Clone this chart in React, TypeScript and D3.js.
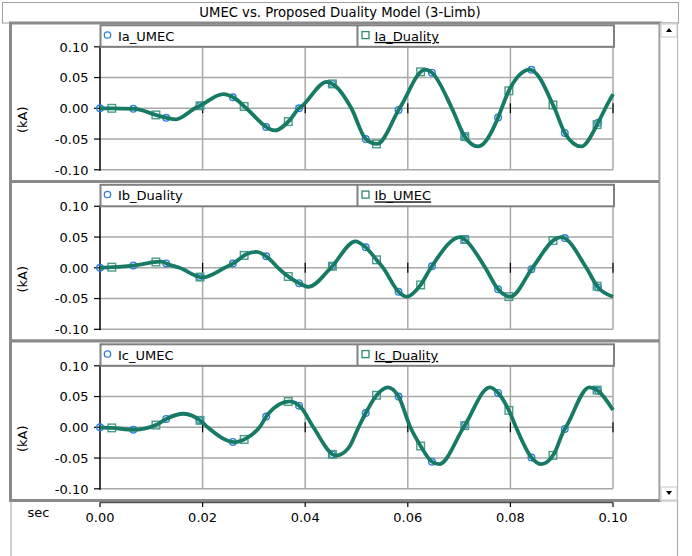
import React, { useEffect, useRef } from "react";
import * as d3 from "d3";

const TITLE = "UMEC vs. Proposed Duality Model (3-Limb)";
const xTicks = [0, 0.02, 0.04, 0.06, 0.08, 0.1];
const xTickLabels = ["0.00", "0.02", "0.04", "0.06", "0.08", "0.10"];
const yTicks = [0.1, 0.05, 0, -0.05, -0.1];
const yTickLabels = ["0.10", "0.05", "0.00", "-0.05", "-0.10"];

// Phase A current (kA)
const iaT = [0, 0.0023, 0.0067, 0.011, 0.0132, 0.0148, 0.0185, 0.0197, 0.024, 0.0263, 0.0285, 0.0341, 0.037, 0.0388, 0.0393, 0.0442, 0.0456, 0.049, 0.0518, 0.054, 0.0584, 0.0634, 0.0647, 0.0686, 0.0711, 0.0737, 0.0776, 0.0783, 0.0795, 0.0838, 0.0886, 0.0906, 0.0938, 0.097, 0.0985, 0.1];
const iaV = [0, 0.0, -0.001, -0.011, -0.016, -0.018, 0.0, 0.005, 0.023, 0.016, 0.0, -0.036, -0.019, 0.0, 0.003, 0.043, 0.038, 0.0, -0.05, -0.058, 0.0, 0.063, 0.058, 0.0, -0.046, -0.062, -0.015, 0.0, 0.025, 0.063, 0.0, -0.04, -0.062, -0.025, 0.0, 0.023];

// Phase B current (kA)
const ibT = [0, 0.0023, 0.0067, 0.011, 0.012, 0.0132, 0.0155, 0.02, 0.0243, 0.0263, 0.0285, 0.0305, 0.0328, 0.0347, 0.037, 0.0393, 0.0406, 0.045, 0.0498, 0.0517, 0.054, 0.0552, 0.0582, 0.0598, 0.0624, 0.0645, 0.0702, 0.0711, 0.0751, 0.0776, 0.08, 0.0843, 0.0886, 0.0899, 0.0948, 0.097, 0.1];
const ibV = [0, 0.001, 0.004, 0.0095, 0.01, 0.006, 0.0, -0.0155, 0.0, 0.009, 0.022, 0.026, 0.016, 0.0, -0.016, -0.027, -0.031, 0.0, 0.043, 0.034, 0.012, 0.0, -0.039, -0.047, -0.029, 0.0, 0.05, 0.046, 0.0, -0.035, -0.047, 0.0, 0.046, 0.05, 0.0, -0.031, -0.047];

// Phase C current (kA)
const icT = [0, 0.0023, 0.0067, 0.011, 0.013, 0.0163, 0.0197, 0.021, 0.0263, 0.0285, 0.0311, 0.0328, 0.037, 0.0393, 0.0416, 0.046, 0.0485, 0.0504, 0.0516, 0.054, 0.0561, 0.0582, 0.0605, 0.0624, 0.0647, 0.0661, 0.0709, 0.076, 0.0777, 0.0799, 0.0811, 0.0841, 0.086, 0.0885, 0.0905, 0.0908, 0.0954, 0.097, 0.1];
const icV = [0, -0.001, -0.004, 0.004, 0.014, 0.022, 0.01, 0.0, -0.024, -0.018, 0.0, 0.022, 0.042, 0.031, 0.0, -0.046, -0.033, 0.0, 0.02, 0.053, 0.065, 0.05, 0.0, -0.029, -0.056, -0.06, 0.0, 0.065, 0.055, 0.024, 0.0, -0.049, -0.06, -0.043, -0.004, 0.0, 0.065, 0.06, 0.028];

// Marker sample times
const circleTimes = [0, 0.0065, 0.0129, 0.0194, 0.0259, 0.0324, 0.0388, 0.0453, 0.0518, 0.0582, 0.0647, 0.0712, 0.0776, 0.0841, 0.0906, 0.0971];
const squareTimes = [0.0023, 0.0109, 0.0195, 0.0281, 0.0367, 0.0453, 0.0539, 0.0625, 0.0711, 0.0797, 0.0883, 0.0969];

const legendFirst = ["Ia_UMEC", "Ib_Duality", "Ic_UMEC"];
const legendSecond = ["Ia_Duality", "Ib_UMEC", "Ic_Duality"];

const W = 692;
const H = 556;
const FONT = "DejaVu Sans, Verdana, sans-serif";

export default function App() {
  const ref = useRef<SVGSVGElement | null>(null);

  useEffect(() => {
    const svg = d3.select(ref.current);
    svg.selectAll("*").remove();

    const x = d3.scaleLinear().domain([0, 0.1]).range([100, 613]);
    const plotH = 123;
    const tops = [46.8, 206.3, 365.8];
    const frames = [
      [23, 181.5],
      [181.5, 341],
      [341, 500.5],
    ];
    const data = [
      { t: iaT, v: iaV },
      { t: ibT, v: ibV },
      { t: icT, v: icV },
    ];

    svg.append("rect").attr("x", 0).attr("y", 0).attr("width", W).attr("height", H).attr("fill", "#ffffff");

    // title bar
    svg.append("rect").attr("x", 2.5).attr("y", 2.5).attr("width", 676).attr("height", 20.5)
      .attr("fill", "#ffffff").attr("stroke", "#a0a0a0").attr("stroke-width", 1);
    svg.append("text").attr("x", 340).attr("y", 17).attr("text-anchor", "middle")
      .attr("font-family", FONT).attr("font-size", 13.2).attr("fill", "#000").text(TITLE);

    svg.append("line").attr("x1", 11).attr("x2", 11).attr("y1", 23).attr("y2", H).attr("stroke", "#b0b0b0").attr("stroke-width", 1.2);
    svg.append("line").attr("x1", 677.5).attr("x2", 677.5).attr("y1", 23).attr("y2", H).attr("stroke", "#b0b0b0").attr("stroke-width", 1.2);

    data.forEach((d, i) => {
      const top = tops[i];
      const y = d3.scaleLinear().domain([-0.1, 0.1]).range([top + plotH, top]);
      const g = svg.append("g");
      const [f0, f1] = frames[i];

      g.append("rect").attr("x", 10.5).attr("y", f0).attr("width", 649.5).attr("height", f1 - f0)
        .attr("fill", "#ffffff").attr("stroke", "#8a8a8a").attr("stroke-width", 3);

      xTicks.slice(1).forEach((tv) => {
        g.append("line").attr("x1", x(tv)).attr("x2", x(tv)).attr("y1", y(0.1)).attr("y2", y(-0.1))
          .attr("stroke", "#a8a8a8").attr("stroke-width", 1.5);
      });
      yTicks.forEach((v) => {
        g.append("line").attr("x1", x(0)).attr("x2", x(0.1)).attr("y1", y(v)).attr("y2", y(v))
          .attr("stroke", "#a8a8a8").attr("stroke-width", 1.5);
      });

      xTicks.slice(1).forEach((tv) => {
        g.append("line").attr("x1", x(tv)).attr("x2", x(tv)).attr("y1", y(0) - 5).attr("y2", y(0) + 5)
          .attr("stroke", "#000").attr("stroke-width", 1.2);
      });

      g.append("line").attr("x1", x(0)).attr("x2", x(0)).attr("y1", y(0.1) - 1).attr("y2", y(-0.1) + 1)
        .attr("stroke", "#000").attr("stroke-width", 1.5);
      yTicks.forEach((v, k) => {
        g.append("line").attr("x1", 94).attr("x2", x(0)).attr("y1", y(v)).attr("y2", y(v))
          .attr("stroke", "#000").attr("stroke-width", 1.2);
        g.append("text").attr("x", 88.5).attr("y", y(v) + 4.7).attr("text-anchor", "end")
          .attr("font-family", FONT).attr("font-size", 13).attr("fill", "#000").text(yTickLabels[k]);
      });
      g.append("text").attr("transform", `translate(26.5,${y(0) + 11.5}) rotate(-90)`)
        .attr("text-anchor", "middle").attr("font-family", FONT).attr("font-size", 13).attr("fill", "#000").text("(kA)");

      const lt = top - 21.5;
      g.append("rect").attr("x", 100.5).attr("y", lt).attr("width", 513.5).attr("height", 21.5)
        .attr("fill", "#ffffff").attr("stroke", "#808080").attr("stroke-width", 2);
      g.append("line").attr("x1", 357.5).attr("x2", 357.5).attr("y1", lt).attr("y2", top)
        .attr("stroke", "#808080").attr("stroke-width", 2);
      g.append("circle").attr("cx", 107.5).attr("cy", lt + 9.7).attr("r", 3.2)
        .attr("fill", "none").attr("stroke", "#2f7fdc").attr("stroke-width", 1.3);
      g.append("text").attr("x", 118).attr("y", lt + 15.6).attr("font-family", FONT).attr("font-size", 13)
        .attr("fill", "#000").text(legendFirst[i]);
      g.append("rect").attr("x", 362).attr("y", lt + 6.3).attr("width", 7).attr("height", 7)
        .attr("fill", "none").attr("stroke", "#2f8a74").attr("stroke-width", 1.3);
      g.append("text").attr("x", 374.5).attr("y", lt + 15.6).attr("font-family", FONT).attr("font-size", 13)
        .attr("fill", "#000").style("text-decoration", "underline").text(legendSecond[i]);

      const pts = d.t.map((tv, k) => [tv, d.v[k]] as [number, number]);
      const line = d3.line<[number, number]>().x((p) => x(p[0])).y((p) => y(p[1])).curve(d3.curveMonotoneX);

      const p1 = g.append("path").attr("d", line(pts) as string).attr("fill", "none")
        .attr("stroke", "#2f7fdc").attr("stroke-width", 1);
      const node = p1.node() as SVGPathElement;
      const total = node.getTotalLength();
      const yAt = (px: number) => {
        let lo = 0, hi = total;
        for (let it = 0; it < 40; it++) {
          const mid = (lo + hi) / 2;
          const p = node.getPointAtLength(mid);
          if (p.x < px) lo = mid; else hi = mid;
        }
        return node.getPointAtLength((lo + hi) / 2).y;
      };

      circleTimes.forEach((tv) => {
        const px = x(tv);
        g.append("circle").attr("cx", px).attr("cy", yAt(px)).attr("r", 3.3)
          .attr("fill", "none").attr("stroke", "#2f7fdc").attr("stroke-width", 1.4);
      });
      squareTimes.forEach((tv) => {
        const px = x(tv);
        g.append("rect").attr("x", px - 3.8).attr("y", yAt(px) - 3.8).attr("width", 7.6).attr("height", 7.6)
          .attr("fill", "none").attr("stroke", "#4a9c86").attr("stroke-width", 1.4);
      });

      g.append("path").attr("d", line(pts) as string).attr("fill", "none")
        .attr("stroke", "#177a65").attr("stroke-width", 3.8).attr("stroke-linejoin", "round");
    });

    // scrollbar
    svg.append("rect").attr("x", 660).attr("y", 23).attr("width", 17.5).attr("height", 478)
      .attr("fill", "#ffffff").attr("stroke", "#b8b8b8").attr("stroke-width", 1);
    svg.append("rect").attr("x", 661).attr("y", 24).attr("width", 16).attr("height", 13)
      .attr("fill", "#ffffff").attr("stroke", "#c8c8c8").attr("stroke-width", 1);
    svg.append("path").attr("d", "M666,32 L672,32 L669,28 Z").attr("fill", "#000");
    svg.append("rect").attr("x", 661).attr("y", 487).attr("width", 16).attr("height", 13)
      .attr("fill", "#ffffff").attr("stroke", "#c8c8c8").attr("stroke-width", 1);
    svg.append("path").attr("d", "M666,491 L672,491 L669,495 Z").attr("fill", "#000");

    // x axis
    svg.append("line").attr("x1", x(0)).attr("x2", x(0.1)).attr("y1", 502.5).attr("y2", 502.5)
      .attr("stroke", "#555").attr("stroke-width", 1.5);
    xTicks.forEach((tv, k) => {
      svg.append("line").attr("x1", x(tv)).attr("x2", x(tv)).attr("y1", 502.5).attr("y2", 507)
        .attr("stroke", "#000").attr("stroke-width", 1.2);
      svg.append("text").attr("x", x(tv)).attr("y", 522).attr("text-anchor", "middle")
        .attr("font-family", FONT).attr("font-size", 13).attr("fill", "#000").text(xTickLabels[k]);
    });
    svg.append("text").attr("x", 38.5).attr("y", 517).attr("text-anchor", "middle")
      .attr("font-family", FONT).attr("font-size", 13).attr("fill", "#000").text("sec");
  }, []);

  return (
    <svg ref={ref} width={W} height={H} style={{ position: "absolute", left: 0, top: 0, display: "block" }} />
  );
}
